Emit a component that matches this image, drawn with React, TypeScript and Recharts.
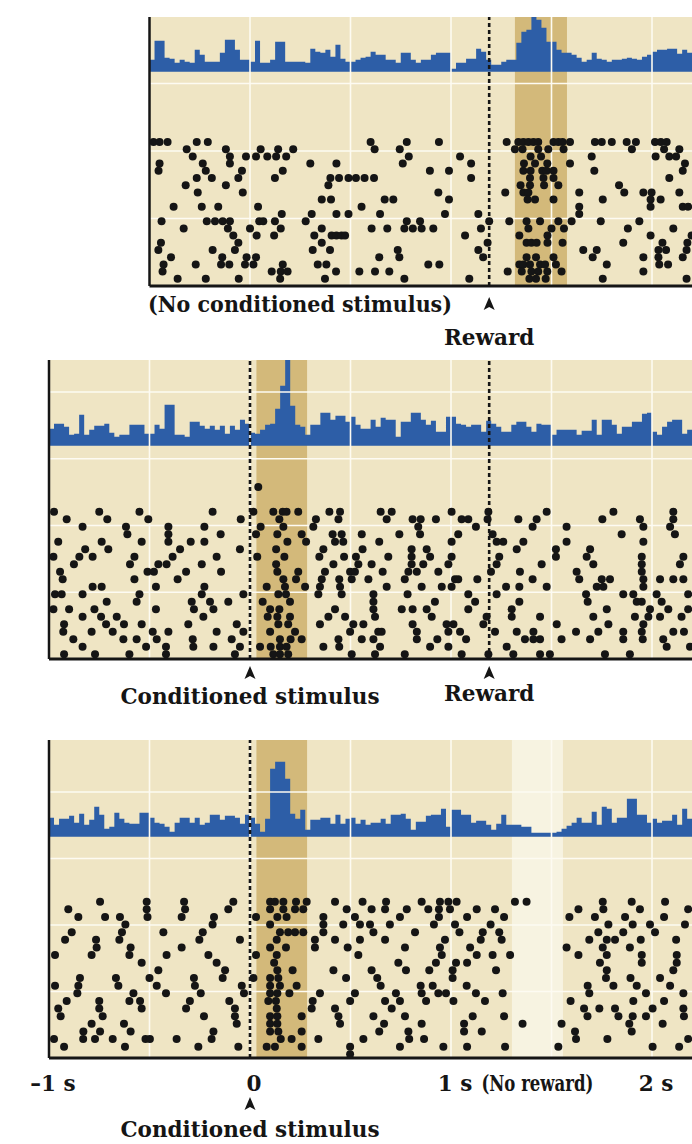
import React from "react";
import {
  ComposedChart,
  XAxis,
  YAxis,
  Area,
  Scatter,
  ReferenceLine,
  ReferenceArea,
} from "recharts";

// ---- timing (seconds) ----
const BIN_S = 0.025;
const GRID_TIMES = [-0.5, 0, 0.5, 1, 1.5, 2];
const CS_T = 0;
const REWARD_T = 1.19;
const CS_BAND = [0.032, 0.284];
const REWARD_BAND = [1.318, 1.577];
const NO_REWARD_BAND = [1.303, 1.557];

const TICK_VALUES = [-1, 0, 1, 2];
const TICK_LABELS = ["–1 s", "0", "1 s", "2 s"];

// ---- histograms: firing rate per 25 ms bin (1 unit = 1 px) ----
// top panel starts at -0.5 s, the other two at -1 s
const histNoCs = [
  12, 31, 31, 14, 13, 9, 12, 10, 9, 22, 17, 10, 10, 10, 19, 32, 32, 22, 12, 12,
  10, 31, 9, 9, 12, 30, 30, 10, 10, 10, 10, 9, 23, 20, 19, 22, 15, 27, 13, 10,
  10, 12, 14, 15, 20, 17, 17, 12, 12, 9, 19, 19, 12, 9, 12, 12, 17, 19, 19, 19,
  3, 9, 9, 13, 13, 23, 20, 12, 7, 7, 10, 12, 12, 29, 40, 42, 55, 52, 44, 30,
  30, 22, 19, 19, 17, 14, 10, 12, 19, 13, 12, 10, 12, 12, 13, 14, 13, 12, 15, 17,
  20, 22, 22, 23, 23, 18, 22, 19, 15,
];
const histCsReward = [
  17, 22, 22, 19, 11, 12, 31, 11, 16, 20, 20, 22, 13, 9, 11, 11, 21, 21, 21, 12,
  12, 21, 17, 41, 41, 11, 11, 9, 24, 24, 20, 17, 20, 16, 20, 12, 20, 16, 26, 22,
  13, 12, 16, 21, 22, 37, 60, 86, 40, 21, 19, 11, 21, 21, 33, 33, 26, 30, 30, 24,
  29, 21, 17, 17, 26, 19, 28, 26, 26, 9, 24, 24, 33, 33, 26, 21, 25, 14, 14, 29,
  29, 22, 21, 19, 21, 21, 14, 25, 22, 19, 14, 14, 21, 24, 24, 19, 14, 22, 21, 21,
  11, 16, 16, 16, 16, 11, 15, 15, 26, 11, 26, 26, 21, 12, 19, 19, 24, 24, 32, 33,
  14, 11, 19, 24, 26, 26, 12, 16, 16,
];
const histCsNoReward = [
  19, 12, 18, 18, 21, 14, 23, 12, 17, 30, 22, 8, 10, 24, 18, 14, 13, 13, 24, 24,
  19, 14, 13, 10, 5, 14, 19, 19, 14, 19, 12, 14, 22, 22, 17, 21, 21, 19, 13, 22,
  19, 13, 5, 18, 68, 75, 75, 58, 23, 18, 27, 7, 17, 17, 19, 19, 13, 22, 13, 18,
  19, 13, 17, 12, 14, 14, 18, 13, 22, 22, 23, 18, 7, 15, 15, 21, 22, 22, 28, 10,
  27, 27, 22, 22, 14, 16, 16, 12, 7, 13, 22, 12, 12, 12, 10, 10, 4, 4, 4, 4,
  4, 5, 8, 11, 14, 19, 14, 14, 25, 12, 30, 28, 14, 19, 19, 38, 38, 22, 22, 14,
  18, 14, 16, 16, 22, 12, 28, 18, 18,
];

// ---- rasters: spike times (s), one array per trial, top trial first ----
const rasterNoCs: number[][] = [
  [-0.48, -0.45, -0.41, -0.265, -0.21, 0.6, 0.78, 0.94, 1.277, 1.335, 1.36, 1.385, 1.41, 1.434, 1.51, 1.534, 1.555, 1.592, 1.716, 1.75, 1.8, 1.874, 1.92, 2.015, 2.044, 2.073],
  [-0.315, -0.12, 0.053, 0.14, 0.215, 0.62, 0.745, 1.318, 1.356, 1.434, 1.484, 1.56, 1.9, 2.06, 2.136],
  [-0.285, -0.1, -0.02, 0.03, 0.086, 0.13, 0.18, 0.79, 1.045, 1.396, 1.448, 1.7, 2.018, 2.086, 2.12],
  [-0.45, -0.235, -0.1, 0.3, 0.43, 0.76, 1.1, 1.363, 1.418, 1.479, 1.592, 2.164],
  [-0.455, -0.22, -0.04, 0.163, 0.895, 0.99, 1.36, 1.396, 1.454, 1.476, 1.51, 1.713, 2.153],
  [-0.265, -0.19, -0.058, 0.124, 0.4, 0.443, 0.49, 0.527, 0.57, 0.617, 1.1, 1.393, 1.46, 1.51, 2.086],
  [-0.32, -0.12, 0.39, 1.346, 1.393, 1.463, 1.534, 1.836],
  [-0.26, -0.036, 0.937, 1.27, 1.36, 1.385, 1.638, 1.862, 1.957, 1.998, 2.136],
  [0.357, 0.403, 0.67, 0.713, 0.99, 1.381, 1.418, 1.51, 1.755, 1.993, 2.043],
  [-0.38, -0.24, -0.158, 0.04, 0.555, 1.638, 1.993, 2.153, 2.18],
  [0.158, 0.307, 0.43, 0.49, 0.647, 0.97, 1.136, 1.638],
  [-0.44, -0.215, -0.174, -0.136, -0.1, 0.046, 0.066, 0.124, 0.277, 0.78, 0.846, 1.19, 1.29, 1.376, 1.443, 1.534, 1.6, 1.745, 1.937],
  [-0.33, -0.11, 0.0, 0.153, 0.357, 0.605, 0.683, 0.768, 0.81, 0.854, 0.912, 1.149, 1.385, 1.5, 1.562, 1.88, 2.106],
  [-0.083, 0.033, 0.12, 0.32, 0.406, 0.43, 0.456, 0.473, 1.07, 1.34, 1.48, 1.993, 2.197],
  [-0.443, -0.058, 0.357, 1.182, 1.376, 1.4, 1.426, 1.48, 1.555, 1.857, 2.052, 2.176],
  [-0.456, -0.186, -0.075, 0.312, 0.398, 0.735, 1.136, 1.658, 1.725, 2.032, 2.07, 2.172],
  [-0.393, -0.138, -0.017, 0.03, 0.643, 0.743, 1.16, 1.376, 1.423, 1.51, 1.705, 1.957, 2.032, 2.153],
  [-0.43, -0.27, -0.144, -0.103, -0.025, 0.017, 0.163, 0.337, 0.38, 0.887, 0.942, 1.34, 1.36, 1.393, 1.443, 1.468, 1.522, 1.775, 2.036, 2.08],
  [-0.435, 0.108, 0.153, 0.187, 0.428, 0.544, 0.622, 0.693, 1.282, 1.352, 1.4, 1.434, 1.479, 1.55, 1.957],
  [-0.36, -0.22, -0.056, 0.15, 0.373, 0.768, 1.091, 1.39, 1.423, 1.471, 1.755, 2.172],
];

const rasterCsReward: number[][] = [
  [-0.975, -0.75, -0.55, -0.186, 0.017, 0.116, 0.163, 0.182, 0.24, 0.395, 0.448, 0.65, 0.705, 1.003, 1.186, 1.476, 1.808, 2.106],
  [-0.912, -0.71, -0.506, -0.046, 0.146, 0.328, 0.44, 0.68, 0.809, 0.849, 0.925, 1.053, 1.086, 1.182, 1.335, 1.426, 1.753, 1.94, 2.106],
  [-0.833, -0.617, -0.406, -0.227, 0.053, 0.166, 0.315, 0.837, 1.124, 1.406, 1.575, 1.957, 2.09],
  [-0.61, -0.406, -0.146, 0.03, 0.136, 0.257, 0.411, 0.456, 0.556, 0.743, 0.846, 1.036, 1.207, 1.849, 2.114],
  [-0.954, -0.738, -0.539, -0.406, -0.295, -0.227, 0.186, 0.279, 0.423, 0.464, 0.643, 1.003, 1.227, 1.26, 1.36, 1.575, 1.957],
  [-0.82, -0.705, -0.348, -0.05, 0.13, 0.365, 0.56, 0.804, 0.879, 1.327, 1.522, 1.692],
  [-0.978, -0.849, -0.783, -0.575, -0.385, -0.166, 0.036, 0.171, 0.345, 0.468, 0.527, 0.688, 0.804, 0.896, 1.003, 1.24, 1.522, 1.675, 1.949, 2.156],
  [-0.876, -0.597, -0.456, -0.415, -0.24, 0.13, 0.415, 0.539, 0.605, 0.804, 0.862, 0.987, 1.227, 1.451, 1.708, 1.949, 2.139],
  [-0.945, -0.51, -0.478, -0.318, -0.144, 0.136, 0.24, 0.373, 0.498, 0.522, 0.66, 0.788, 0.83, 0.937, 1.199, 1.343, 1.625, 1.949],
  [-0.932, -0.575, -0.36, 0.166, 0.229, 0.357, 0.444, 0.506, 0.589, 0.77, 1.02, 1.036, 1.131, 1.406, 1.638, 1.75, 1.791, 1.957, 2.04, 2.106, 2.156],
  [-0.783, -0.738, -0.468, -0.227, 0.083, 0.174, 0.274, 0.348, 0.448, 0.68, 0.854, 0.954, 1.003, 1.274, 1.34, 1.476, 1.725, 1.758, 1.957],
  [-0.97, -0.937, -0.833, -0.55, -0.24, -0.033, 0.141, 0.179, 0.34, 0.456, 0.614, 0.784, 1.086, 1.227, 1.672, 1.857, 1.907, 2.023, 2.18],
  [-0.713, -0.564, -0.29, -0.199, -0.108, 0.063, 0.199, 0.614, 0.92, 1.12, 1.34, 1.68, 1.924, 1.949, 2.048],
  [-0.978, -0.9, -0.774, -0.468, -0.279, -0.182, 0.1, 0.146, 0.423, 0.614, 0.755, 0.809, 0.879, 1.086, 1.302, 1.775, 1.99, 2.081, 2.18],
  [-0.833, -0.741, -0.663, -0.232, 0.088, 0.136, 0.199, 0.39, 0.473, 0.622, 0.904, 1.177, 1.302, 1.443, 1.708, 1.915, 1.982, 2.04, 2.147],
  [-0.925, -0.716, -0.627, -0.539, -0.307, -0.066, 0.141, 0.19, 0.348, 0.514, 0.564, 0.809, 0.978, 1.012, 1.161, 1.526, 1.783, 1.957],
  [-0.929, -0.788, -0.683, -0.484, -0.406, -0.166, -0.033, 0.1, 0.224, 0.498, 0.638, 0.655, 0.83, 0.987, 1.045, 1.219, 1.327, 1.41, 1.622, 1.733, 1.857, 1.949, 2.106, 2.159],
  [-0.879, -0.63, -0.564, -0.464, -0.285, -0.091, 0.149, 0.202, 0.257, 0.44, 0.556, 0.614, 0.83, 0.932, 1.075, 1.368, 1.41, 1.443, 1.55, 1.692, 1.857, 1.954, 2.056],
  [-0.833, -0.517, -0.418, -0.282, -0.182, -0.05, 0.05, 0.103, 0.149, 0.182, 0.365, 0.444, 0.647, 0.896, 0.987, 1.277, 2.073, 2.189],
  [-0.925, -0.771, -0.6, -0.418, -0.075, 0.116, 0.149, 0.19, 0.506, 0.622, 0.77, 1.053, 1.186, 1.31, 1.443, 1.492, 1.766, 1.89],
];
// single early spike above the first trial: [time, trial]
const rasterCsRewardStray = [[0.041, -3.3]];

const rasterCsNoReward: number[][] = [
  [-0.746, -0.514, -0.328, -0.083, 0.1, 0.124, 0.166, 0.229, 0.282, 0.423, 0.56, 0.677, 0.854, 0.945, 0.987, 1.028, 1.318, 1.376, 1.755, 1.899, 2.065],
  [-0.904, -0.514, -0.323, -0.108, 0.1, 0.166, 0.224, 0.265, 0.481, 0.605, 0.672, 0.78, 0.887, 0.94, 0.995, 1.128, 1.219, 1.634, 1.758, 1.94, 2.18],
  [-0.854, -0.721, -0.647, -0.51, -0.34, -0.179, 0.03, 0.136, 0.182, 0.365, 0.522, 0.746, 0.94, 1.08, 1.264, 1.589, 1.716, 1.866, 2.06],
  [-0.62, -0.186, 0.1, 0.365, 0.464, 0.547, 0.597, 0.696, 0.915, 1.02, 1.197, 1.783, 1.904, 1.99, 2.164],
  [-0.887, -0.637, -0.431, -0.235, 0.149, 0.19, 0.224, 0.265, 0.365, 0.614, 0.821, 1.042, 1.158, 1.24, 1.733, 1.857, 2.015],
  [-0.92, -0.766, -0.65, -0.252, -0.05, 0.133, 0.323, 0.423, 0.547, 0.672, 0.97, 1.148, 1.252, 1.688, 1.775, 1.816, 1.944, 2.12],
  [-0.763, -0.594, -0.34, 0.1, 0.179, 0.323, 0.486, 0.771, 0.945, 1.095, 1.575, 1.755, 1.89],
  [-0.97, -0.788, -0.6, -0.415, -0.207, 0.03, 0.133, 0.539, 0.954, 1.128, 1.207, 1.294, 1.634, 1.775, 1.949, 2.123],
  [-0.539, -0.166, 0.12, 0.738, 0.925, 1.025, 1.08, 1.741, 1.949, 2.123],
  [-0.456, -0.124, 0.136, 0.212, 0.415, 0.605, 0.776, 0.892, 1.008, 1.224, 1.775, 2.106],
  [-0.846, -0.667, -0.5, -0.279, -0.136, 0.017, 0.1, 0.141, 0.478, 0.633, 1.008, 1.771, 1.893, 2.04],
  [-0.97, -0.854, -0.655, -0.464, -0.274, -0.041, 0.1, 0.149, 0.232, 0.65, 0.849, 0.909, 1.078, 1.68, 1.808, 1.924, 2.09],
  [-0.859, -0.58, -0.418, -0.245, -0.03, 0.1, 0.136, 0.196, 0.348, 0.522, 0.726, 0.854, 0.937, 0.975, 1.124, 1.257, 1.688, 1.97, 2.156],
  [-0.912, -0.75, -0.6, -0.547, -0.299, -0.103, 0.091, 0.129, 0.312, 0.498, 0.672, 0.746, 0.876, 1.012, 1.169, 1.595, 1.907, 2.06],
  [-0.954, -0.75, -0.539, -0.318, -0.075, 0.133, 0.307, 0.423, 0.705, 1.662, 1.738, 1.816, 2.003, 2.156],
  [-0.942, -0.733, -0.229, -0.075, 0.1, 0.136, 0.257, 0.44, 0.614, 0.771, 1.108, 1.264, 1.679, 1.833, 1.904, 1.97, 2.159],
  [-0.788, -0.627, -0.066, 0.1, 0.136, 0.448, 0.667, 0.854, 1.065, 1.356, 1.55, 1.887, 2.053],
  [-0.829, -0.746, -0.594, -0.182, 0.1, 0.141, 0.257, 0.643, 0.788, 1.065, 1.153, 1.617, 1.899],
  [-0.975, -0.83, -0.771, -0.683, -0.52, -0.498, -0.365, -0.191, 0.153, 0.207, 0.34, 0.564, 0.792, 0.866, 1.622, 1.778, 2.18],
  [-0.925, -0.622, -0.257, -0.058, 0.083, 0.124, 0.257, 0.498, 0.746, 0.962, 1.08, 1.269, 1.534, 2.003, 2.135],
  [0.498],
];

// ---- look ----
const CREAM = "#efe5c4";
const TAN = "#d3b97a";
const PALE = "#f7f3e1";
const BLUE = "#2d5ea7";
const INK = "#151515";
const GRID = "#fdfbf2";
const SERIF = "'DejaVu Serif', serif";
const FONT = 21.5;

const ZERO_X = 250;
const PX_PER_S = 201;
const RIGHT = 692;
const xOf = (t: number) => ZERO_X + t * PX_PER_S;

type Band = { from: number; to: number; fill: string };

type PanelProps = {
  top: number;
  bottom: number;
  tStart: number;
  hist: number[];
  histBaseY: number;
  rows: number[][];
  stray?: number[][];
  rowY0: number;
  rowGap: number;
  gridGap: number;
  bands: Band[];
  dashed: number[];
  showTicks?: boolean;
};

function Dot(props: any) {
  if (props.cx == null || props.cy == null) return null;
  return <circle cx={props.cx} cy={props.cy} r={4} fill={INK} />;
}

function Panel(p: PanelProps) {
  const plotLeft = xOf(p.tStart);
  const tEnd = (RIGHT - ZERO_X) / PX_PER_S;
  const plotH = p.bottom - p.top;
  const axisH = p.showTicks ? 60 : 0;
  const padB = p.showTicks ? 0 : 3;

  const histData = p.hist.map((v, i) => ({ t: p.tStart + i * BIN_S, v }));
  histData.push({ t: p.tStart + p.hist.length * BIN_S, v: p.hist[p.hist.length - 1] });

  const dots = p.rows.flatMap((row, r) => row.map((t) => ({ t, row: r })));
  (p.stray ?? []).forEach(([t, r]) => dots.push({ t, row: r }));

  const gMax = plotH / p.gridGap;
  const gridRows = [1, 2, 3, 4].filter((g) => g < gMax - 0.3);

  return (
    <div style={{ position: "absolute", left: 0, top: p.top }}>
      <ComposedChart
        width={RIGHT}
        height={plotH + axisH + padB}
        data={histData}
        margin={{ top: 0, right: 0, bottom: padB, left: plotLeft }}
      >
        <XAxis
          type="number"
          dataKey="t"
          domain={[p.tStart, tEnd]}
          allowDataOverflow
          hide={!p.showTicks}
          height={axisH}
          ticks={TICK_VALUES}
          interval={0}
          tickFormatter={(v) => TICK_LABELS[TICK_VALUES.indexOf(v)] ?? ""}
          axisLine={false}
          tickLine={false}
          tickSize={6}
          tickMargin={12}
          tick={{ fill: INK, fontSize: FONT, fontFamily: SERIF, fontWeight: 700, dx: 4 }}
        />
        <YAxis yAxisId="g" type="number" domain={[0, gMax]} allowDataOverflow hide />
        <YAxis
          yAxisId="h"
          type="number"
          domain={[p.histBaseY - p.bottom, p.histBaseY - p.top]}
          allowDataOverflow
          hide
        />
        <YAxis
          yAxisId="r"
          type="number"
          dataKey="row"
          reversed
          domain={[(p.top - p.rowY0) / p.rowGap, (p.bottom - p.rowY0) / p.rowGap]}
          allowDataOverflow
          hide
        />

        <ReferenceArea yAxisId="g" x1={p.tStart} x2={tEnd} y1={0} y2={gMax} fill={CREAM} fillOpacity={1} stroke="none" />
        {p.bands.map((b) => (
          <ReferenceArea key={b.from} yAxisId="g" x1={b.from} x2={b.to} y1={0} y2={gMax} fill={b.fill} fillOpacity={1} stroke="none" />
        ))}
        {GRID_TIMES.filter((t) => t > p.tStart + 0.01).map((t) => (
          <ReferenceLine key={"v" + t} yAxisId="g" x={t} stroke={GRID} strokeWidth={1.6} />
        ))}
        {gridRows.map((g) => (
          <ReferenceLine key={"h" + g} yAxisId="g" y={g} stroke={GRID} strokeWidth={1.6} />
        ))}

        <Area
          yAxisId="h"
          type="stepAfter"
          dataKey="v"
          baseValue={0}
          stroke="none"
          fill={BLUE}
          fillOpacity={1}
          dot={false}
          activeDot={false}
          isAnimationActive={false}
        />

        {p.dashed.map((t) => (
          <ReferenceLine key={"d" + t} yAxisId="g" x={t} stroke={INK} strokeWidth={2.6} strokeDasharray="4 3" />
        ))}

        <Scatter yAxisId="r" data={dots} shape={Dot} isAnimationActive={false} />

        <ReferenceLine yAxisId="g" x={p.tStart} stroke={INK} strokeWidth={2.5} />
        <ReferenceLine yAxisId="g" y={0} stroke={INK} strokeWidth={3} />
      </ComposedChart>
    </div>
  );
}

function Arrow({ x, y }: { x: number; y: number }) {
  return <path d={`M${x},${y} L${x + 5.5},${y + 13} L${x},${y + 10} L${x - 5.5},${y + 13} Z`} fill={INK} />;
}

const textStyle = { fontFamily: SERIF, fontSize: FONT, fontWeight: 700, fill: INK } as const;

export default function App() {
  return (
    <div style={{ position: "absolute", left: 0, top: 0, width: 692, height: 1144, background: "#fff" }}>
      <Panel
        top={17}
        bottom={286}
        tStart={-0.5}
        hist={histNoCs}
        histBaseY={71.7}
        rows={rasterNoCs}
        rowY0={142}
        rowGap={7.2}
        gridGap={67.5}
        bands={[{ from: REWARD_BAND[0], to: REWARD_BAND[1], fill: TAN }]}
        dashed={[REWARD_T]}
      />
      <Panel
        top={360}
        bottom={659}
        tStart={-1}
        hist={histCsReward}
        histBaseY={445.7}
        rows={rasterCsReward}
        stray={rasterCsRewardStray}
        rowY0={511.7}
        rowGap={7.5}
        gridGap={66.75}
        bands={[{ from: CS_BAND[0], to: CS_BAND[1], fill: TAN }]}
        dashed={[CS_T, REWARD_T]}
      />
      <Panel
        top={740}
        bottom={1058}
        tStart={-1}
        hist={histCsNoReward}
        histBaseY={836.7}
        rows={rasterCsNoReward}
        rowY0={901.7}
        rowGap={7.63}
        gridGap={66.5}
        bands={[
          { from: CS_BAND[0], to: CS_BAND[1], fill: TAN },
          { from: NO_REWARD_BAND[0], to: NO_REWARD_BAND[1], fill: PALE },
        ]}
        dashed={[CS_T]}
        showTicks
      />

      <svg width={692} height={1144} style={{ position: "absolute", left: 0, top: 0, pointerEvents: "none" }}>
        <text x={148} y={312} textLength={304} lengthAdjust="spacingAndGlyphs" style={textStyle}>
          (No conditioned stimulus)
        </text>
        <Arrow x={xOf(REWARD_T)} y={297} />
        <text x={xOf(REWARD_T)} y={345} textAnchor="middle" style={textStyle}>Reward</text>

        <Arrow x={xOf(CS_T)} y={666} />
        <text x={xOf(CS_T)} y={704} textAnchor="middle" style={textStyle}>Conditioned stimulus</text>
        <Arrow x={xOf(REWARD_T)} y={666} />
        <text x={xOf(REWARD_T)} y={701} textAnchor="middle" style={textStyle}>Reward</text>

        <text
          x={xOf((NO_REWARD_BAND[0] + NO_REWARD_BAND[1]) / 2) - 56}
          y={1091}
          textLength={112}
          lengthAdjust="spacingAndGlyphs"
          style={textStyle}
        >
          (No reward)
        </text>
        <Arrow x={xOf(CS_T)} y={1097} />
        <text x={xOf(CS_T)} y={1137} textAnchor="middle" style={textStyle}>Conditioned stimulus</text>
      </svg>
    </div>
  );
}
